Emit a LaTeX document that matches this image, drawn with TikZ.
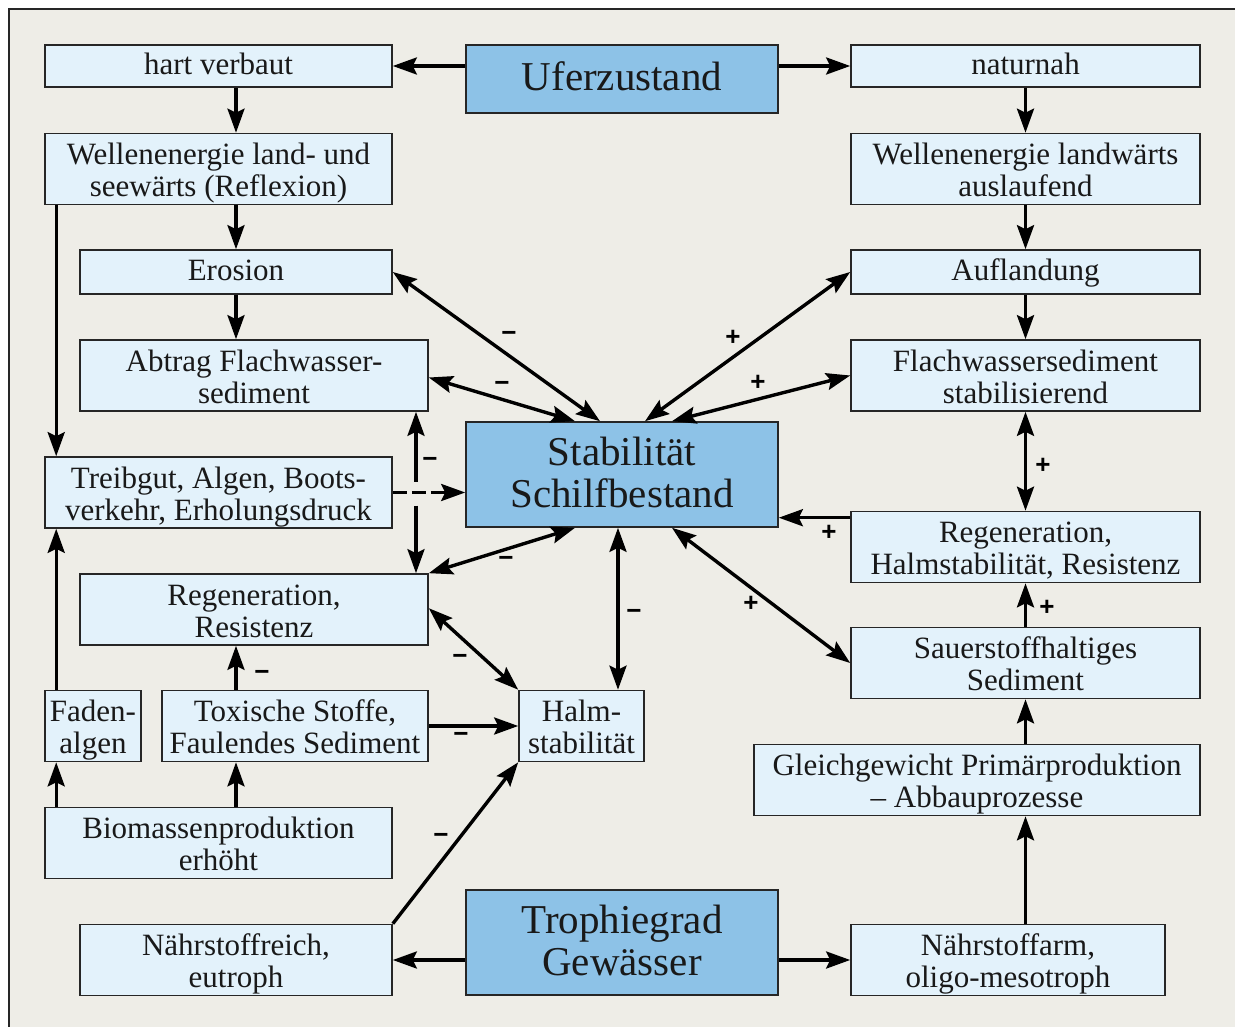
\documentclass[tikz,border=0pt]{standalone}
\usepackage{fontspec}
\setmainfont{Liberation Serif}
\setsansfont{Liberation Sans}
\usetikzlibrary{arrows.meta,calc}
\definecolor{bg}{HTML}{EEEDE7}
\definecolor{lightbox}{HTML}{E3F2FB}
\definecolor{darkbox}{HTML}{8DC2E7}
\newcommand\mytopstrut{\rule{0pt}{63pt}}
\newcommand\mybotstrut{\rule[-8pt]{0pt}{8pt}}
\newcommand\myonetop{\rule{0pt}{27pt}}
\newcommand\myonebot{\rule[-10pt]{0pt}{10pt}}
\newcommand\mybigbot{\rule[-5pt]{0pt}{5pt}}
\begin{document}
\begin{tikzpicture}[x=1pt,y=-1pt,
  box/.style={draw=black!85, line width=1.6pt, fill=lightbox, inner sep=0pt, align=center, text=black!90, font=\fontsize{31}{32}\selectfont,
    execute at begin node=\mytopstrut, execute at end node=\mybotstrut},
  onebox/.style={draw=black!85, line width=1.6pt, fill=lightbox, inner sep=0pt, align=center, text=black!90, font=\fontsize{31}{32}\selectfont,
    execute at begin node=\myonetop, execute at end node=\myonebot},
  bigbox/.style={draw=black!85, line width=1.6pt, inner sep=0pt, align=center, text=black!90, fill=darkbox, font=\fontsize{41}{42}\selectfont,
    execute at end node=\mybigbot},
  tip/.tip={Stealth[length=24pt,width=17pt,inset=4pt]},
  arr/.style={line width=3.4pt, -tip},
  darr/.style={line width=3.4pt, tip-tip},
  dasharr/.style={arr, dash pattern=on 14pt off 5pt},
  sign/.style={font=\sffamily\bfseries\fontsize{26}{26}\selectfont, inner sep=0pt},
]
\useasboundingbox (0,0) rectangle (1235,1027);
\fill[white] (0,0) rectangle (1235,1027);
\fill[bg] (9,9) rectangle (1235,1027);
\draw[line width=1.8pt, black!85] (9,1027) -- (9,9) -- (1235,9);

% top row
\node[onebox, minimum width=347pt, minimum height=42pt] (hv) at (218.5,66) {hart verbaut};
\node[bigbox, minimum width=312pt, minimum height=68pt] (ufer) at (622,79) {Uferzustand};
\node[onebox, minimum width=349pt, minimum height=42pt] (nat) at (1025.5,66) {naturnah};
% left column
\node[box, minimum width=347pt, minimum height=70pt] (wl) at (218.5,169) {Wellenenergie land- und\\seewärts (Reflexion)};
\node[onebox, minimum width=312pt, minimum height=44pt] (ero) at (236,272) {Erosion};
\node[box, minimum width=348pt, minimum height=69pt] (abtrag) at (254,375.5) {Abtrag Flachwasser-\\sediment};
\node[box, minimum width=347pt, minimum height=69pt] (treib) at (218.5,492.5) {Treibgut, Algen, Boots-\\verkehr, Erholungsdruck};
\node[box, minimum width=348pt, minimum height=69pt] (regl) at (254,609.5) {Regeneration,\\Resistenz};
\node[box, minimum width=96pt, minimum height=70pt] (faden) at (93,726) {Faden-\\algen};
\node[box, minimum width=266pt, minimum height=70pt] (tox) at (295,726) {Toxische Stoffe,\\Faulendes Sediment};
\node[box, minimum width=125pt, minimum height=70pt] (halm) at (581.5,726) {Halm-\\stabilität};
\node[box, minimum width=347pt, minimum height=70pt] (bio) at (218.5,843) {Biomassenproduktion\\erhöht};
\node[box, minimum width=312pt, minimum height=70pt] (nreich) at (236,960) {Nährstoffreich,\\eutroph};
% centre
\node[bigbox, minimum width=312pt, minimum height=105pt] (stab) at (622,474.5) {Stabilität\\Schilfbestand};
\node[bigbox, minimum width=312pt, minimum height=105pt] (troph) at (622,942.5) {Trophiegrad\\Gewässer};
% right column
\node[box, minimum width=349pt, minimum height=70pt] (wr) at (1025.5,169) {Wellenenergie landwärts\\auslaufend};
\node[onebox, minimum width=349pt, minimum height=44pt] (aufl) at (1025.5,272) {Auflandung};
\node[box, minimum width=349pt, minimum height=69pt] (fws) at (1025.5,375.5) {Flachwassersediment\\stabilisierend};
\node[box, minimum width=349pt, minimum height=70pt] (regr) at (1025.5,547) {Regeneration,\\Halmstabilität, Resistenz};
\node[box, minimum width=349pt, minimum height=70pt] (sauer) at (1025.5,663) {Sauerstoffhaltiges\\Sediment};
\node[box, minimum width=446pt, minimum height=70pt] (gleich) at (977,780) {Gleichgewicht Primärproduktion\\– Abbauprozesse};
\node[box, minimum width=314pt, minimum height=70pt] (narm) at (1008,960) {Nährstoffarm,\\oligo-mesotroph};

% helper coordinates
\coordinate (hx) at (618,0);
\coordinate (cross) at (416,492.5);
\coordinate (rs) at ($(regr.north west)+(0,7)$);

% top arrows
\draw[arr] (ufer.west |- hv.east) -- (hv.east);
\draw[arr] (ufer.east |- nat.west) -- (nat.west);
% left column
\draw[arr] (hv.south -| ero.north) -- (wl.north -| ero.north);
\draw[arr] (wl.south -| ero.north) -- (ero.north);
\draw[arr] (ero.south) -- (abtrag.north -| ero.south);
\draw[arr] ($(wl.south west)+(12,0)$) -- ($(treib.north west)+(12,0)$);
\draw[arr] ($(bio.north west)+(12,0)$) -- ($(faden.south west)+(12,0)$);
\draw[arr] ($(faden.north west)+(12,0)$) -- ($(treib.south west)+(12,0)$);
\draw[arr] (bio.north -| ero.south) -- (tox.south -| ero.south);
\draw[arr] (tox.north -| ero.south) -- (regl.south -| ero.south);
\draw[arr] (tox.east) -- (halm.west);
\draw[darr] ($(regl.north east)+(0,35)$) -- (halm.north west);
\draw[arr] (nreich.north east) -- (halm.south west);
\draw[arr] (troph.west |- nreich.east) -- (nreich.east);
\draw[arr] (troph.east |- narm.west) -- (narm.west);
% dashed and crossing
\draw[dasharr] (treib.east) -- (stab.west |- treib.east);
\draw[arr] ($(cross)+(0,-11)$) -- (abtrag.south -| cross);
\draw[arr] ($(cross)+(0,13)$) -- (regl.north -| cross);
% centre connections
\draw[darr] (regl.north east) -- ($(stab.south)+(-47,0)$);
\draw[darr] (halm.north -| hx) -- (stab.south -| hx);
\draw[darr] ($(stab.north)+(-22,0)$) -- (ero.east);
\draw[darr] ($(stab.north)+(-47,0)$) -- ($(abtrag.east)+(0,2)$);
\draw[darr] ($(stab.north)+(23,0)$) -- (aufl.west);
\draw[darr] ($(stab.north)+(50,0)$) -- (fws.west);
\draw[darr] ($(stab.south)+(50,0)$) -- (sauer.west);
\draw[arr] (rs) -- (stab.east |- rs);
% right column
\draw[arr] (nat.south) -- (wr.north);
\draw[arr] (wr.south) -- (aufl.north);
\draw[arr] (aufl.south) -- (fws.north);
\draw[darr] (fws.south) -- (regr.north);
\draw[arr] (sauer.north) -- (regr.south);
\draw[arr] (gleich.north -| sauer.south) -- (sauer.south);
\draw[arr] (narm.north -| sauer.south) -- (gleich.south -| sauer.south);

% signs
\node[sign] (m1) at (509,336) {−};
\node[sign] (m2) at (502,386) {−};
\node[sign] (m3) at (430,462) {−};
\node[sign] (m4) at (506,561) {−};
\node[sign] (m5) at (634,614) {−};
\node[sign] (m6) at (460,659) {−};
\node[sign] (m7) at (262,675) {−};
\node[sign] (m8) at (461,737) {−};
\node[sign] (m9) at (441,838) {−};
\node[sign] (p1) at (733,338) {+};
\node[sign] (p2) at (758,383) {+};
\node[sign] (p3) at (1043,466) {+};
\node[sign] (p4) at (829,533) {+};
\node[sign] (p5) at (751,604) {+};
\node[sign] (p6) at (1047,608) {+};
\end{tikzpicture}
\end{document}
